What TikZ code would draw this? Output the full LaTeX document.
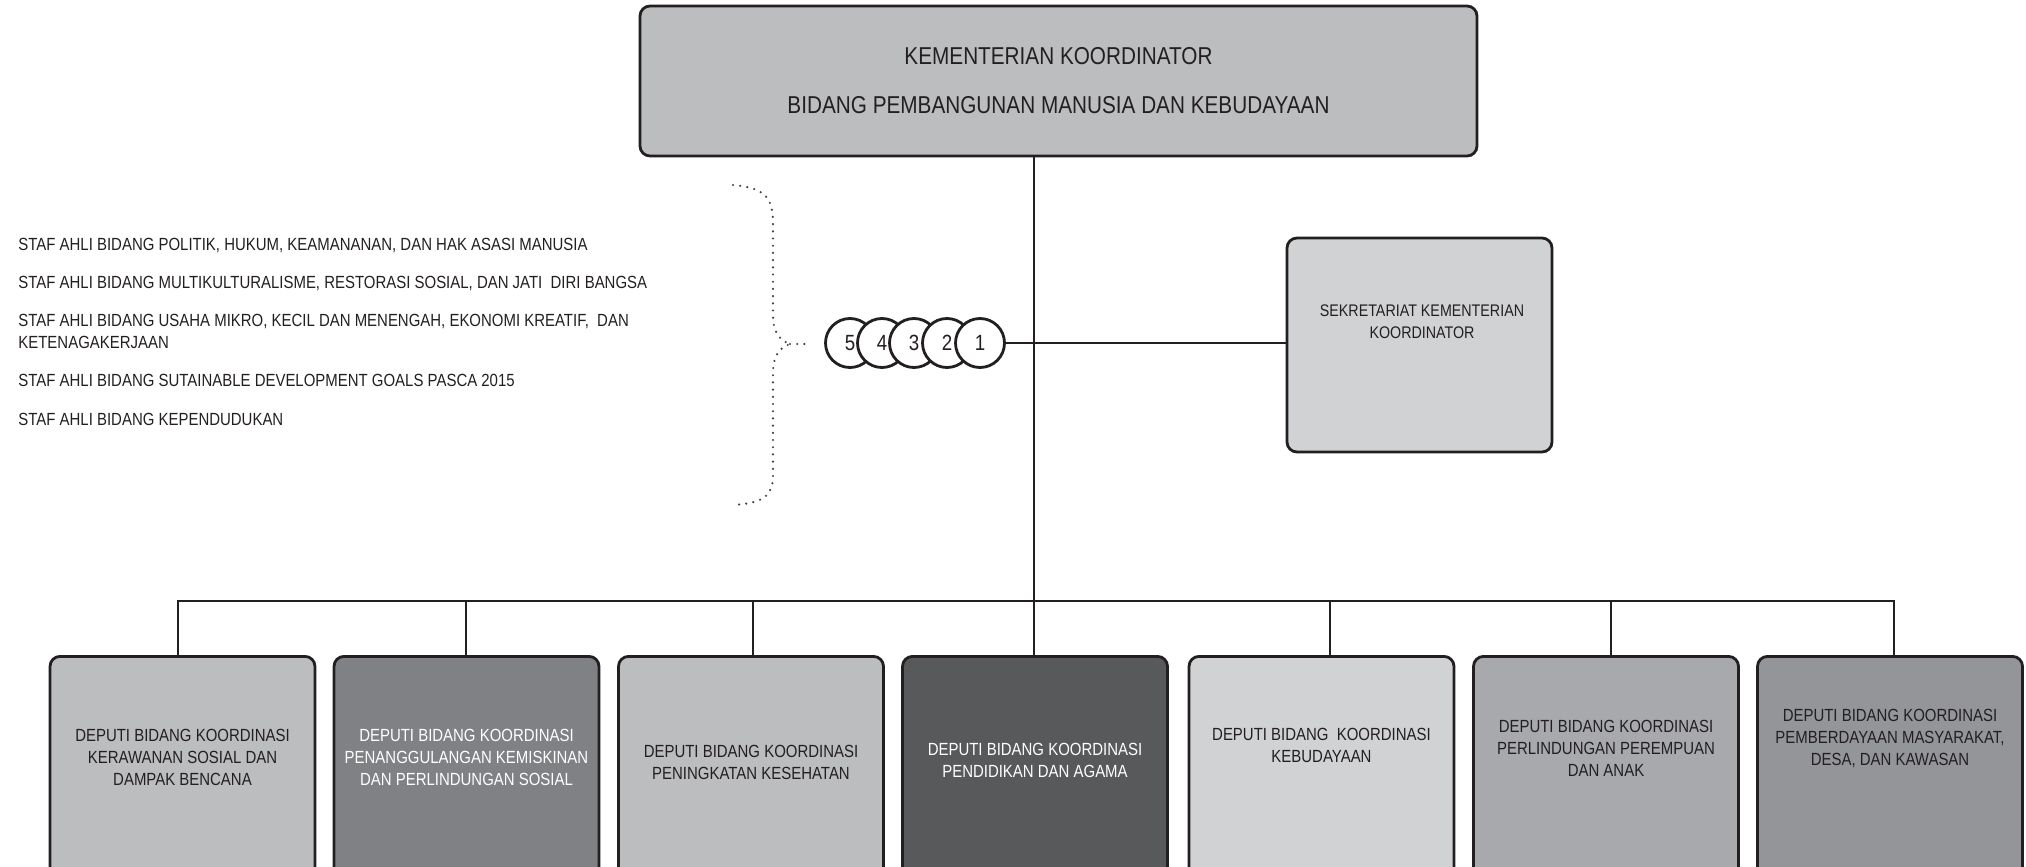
\documentclass[tikz,border=0pt]{standalone}
\usepackage{fontspec}
\setmainfont{Liberation Sans}[FakeStretch=0.85]
\usepackage{tikz}

\definecolor{ink}{HTML}{231F20}
\definecolor{grA}{HTML}{BCBDBF}
\definecolor{grB}{HTML}{808184}
\definecolor{grD}{HTML}{58595B}
\definecolor{grE}{HTML}{D1D2D4}
\definecolor{grF}{HTML}{A7A9AC}
\definecolor{grG}{HTML}{939598}

\tikzset{
  unitbox/.style={draw=ink, line width=1.4pt, rounded corners=5pt, inner sep=0pt},
  deputi/.style={unitbox, anchor=north, minimum width=132.5pt, minimum height=130pt},
  dtext/.style={align=center, text=ink, inner sep=0pt, font=\fontsize{8.8}{11}\selectfont},
  stext/.style={align=left, anchor=west, text=ink, inner sep=0pt, font=\fontsize{8.8}{11}\selectfont},
  num/.style={circle, draw=ink, fill=white, line width=1.4pt, minimum size=24.5pt, inner sep=0pt, text=ink, font=\fontsize{11}{12}\selectfont},
  conn/.style={draw=ink, line width=1.4pt},
  dotbrace/.style={draw=ink!85, line width=1.2pt, line cap=round, dash pattern=on 0pt off 3.6pt}
}

\begin{document}
\begin{tikzpicture}[x=0.5pt, y=-0.5pt]
  \useasboundingbox (0,0) rectangle (2026,867);
  \clip (0,0) rectangle (2026,867);

  \node[unitbox, fill=grA, minimum width=418.5pt, minimum height=75pt, align=center, text=ink, font=\fontsize{12.2}{24.5}\selectfont] (kemenko) at (1058.5,81)
    {KEMENTERIAN KOORDINATOR\\BIDANG PEMBANGUNAN MANUSIA DAN KEBUDAYAAN};

  \node[unitbox, fill=grE, minimum width=132.5pt, minimum height=107pt] (sek) at (1419.5,345) {};
  \node[dtext, font=\fontsize{8.4}{11}\selectfont] (sekt) at (1422,322) {SEKRETARIAT KEMENTERIAN\\KOORDINATOR};

  \node[stext] (staf1) at (18,245.5) {STAF AHLI BIDANG POLITIK, HUKUM, KEAMANANAN, DAN HAK ASASI MANUSIA};
  \node[stext] (staf2) at (18,283) {STAF AHLI BIDANG MULTIKULTURALISME, RESTORASI SOSIAL, DAN JATI~ DIRI BANGSA};
  \node[stext] (staf3) at (18,331) {STAF AHLI BIDANG USAHA MIKRO, KECIL DAN MENENGAH, EKONOMI KREATIF,~ DAN\\KETENAGAKERJAAN};
  \node[stext] (staf4) at (18,380) {STAF AHLI BIDANG SUTAINABLE DEVELOPMENT GOALS PASCA 2015};
  \node[stext] (staf5) at (18,419) {STAF AHLI BIDANG KEPENDUDUKAN};

  \coordinate (tip) at (790,344);
  \coordinate (tipend) at (808,344);
  \draw[dotbrace] (733,185) .. controls (768,188) and (773,200) .. (773,225) -- (773,315)
    .. controls (773,330) and (778,340) .. (tip)
    .. controls (778,348) and (773,358) .. (773,373) -- (773,475)
    .. controls (773,495) and (765,503) .. (733,505);
  \draw[dotbrace] (tip) -- (tipend);

  \node[num] (c5) at (850,343) {5};
  \node[num] (c4) at (882,343) {4};
  \node[num] (c3) at (914,343) {3};
  \node[num] (c2) at (947,343) {2};
  \node[num] (c1) at (980,343) {1};

  \node[deputi, fill=grA] (d1) at (182.5,655) {};
  \node[deputi, fill=grB] (d2) at (466.5,655) {};
  \node[deputi, fill=grA] (d3) at (751,655) {};
  \node[deputi, fill=grD] (d4) at (1035,655) {};
  \node[deputi, fill=grE] (d5) at (1321.5,655) {};
  \node[deputi, fill=grF] (d6) at (1606,655) {};
  \node[deputi, fill=grG] (d7) at (1890,655) {};

  \node[dtext] (d1t) at (182.5,757) {DEPUTI BIDANG KOORDINASI\\KERAWANAN SOSIAL DAN\\DAMPAK BENCANA};
  \node[dtext, text=white] (d2t) at (466.5,757) {DEPUTI BIDANG KOORDINASI\\PENANGGULANGAN KEMISKINAN\\DAN PERLINDUNGAN SOSIAL};
  \node[dtext] (d3t) at (751,762) {DEPUTI BIDANG KOORDINASI\\PENINGKATAN KESEHATAN};
  \node[dtext, text=white] (d4t) at (1035,760) {DEPUTI BIDANG KOORDINASI\\PENDIDIKAN DAN AGAMA};
  \node[dtext] (d5t) at (1321.5,745) {DEPUTI BIDANG~ KOORDINASI\\KEBUDAYAAN};
  \node[dtext] (d6t) at (1606,748) {DEPUTI BIDANG KOORDINASI\\PERLINDUNGAN PEREMPUAN\\DAN ANAK};
  \node[dtext] (d7t) at (1890,738) {DEPUTI BIDANG KOORDINASI\\PEMBERDAYAAN MASYARAKAT,\\DESA, DAN KAWASAN};

  \coordinate (hub) at (1034,343);
  \coordinate (b1) at (178,601);
  \coordinate (b2) at (466,601);
  \coordinate (b3) at (753,601);
  \coordinate (b4) at (1034,601);
  \coordinate (b5) at (1330,601);
  \coordinate (b6) at (1611,601);
  \coordinate (b7) at (1894,601);

  \draw[conn] (kemenko.south -| hub) -- (hub) -- (b4) -- (b4 |- d4.north);
  \draw[conn] (c1.east) -- (c1.east -| sek.west);
  \draw[conn] (b1 |- d1.north) -- (b1) -- (b7) -- (b7 |- d7.north);
  \draw[conn] (b2) -- (b2 |- d2.north);
  \draw[conn] (b3) -- (b3 |- d3.north);
  \draw[conn] (b5) -- (b5 |- d5.north);
  \draw[conn] (b6) -- (b6 |- d6.north);
\end{tikzpicture}
\end{document}
